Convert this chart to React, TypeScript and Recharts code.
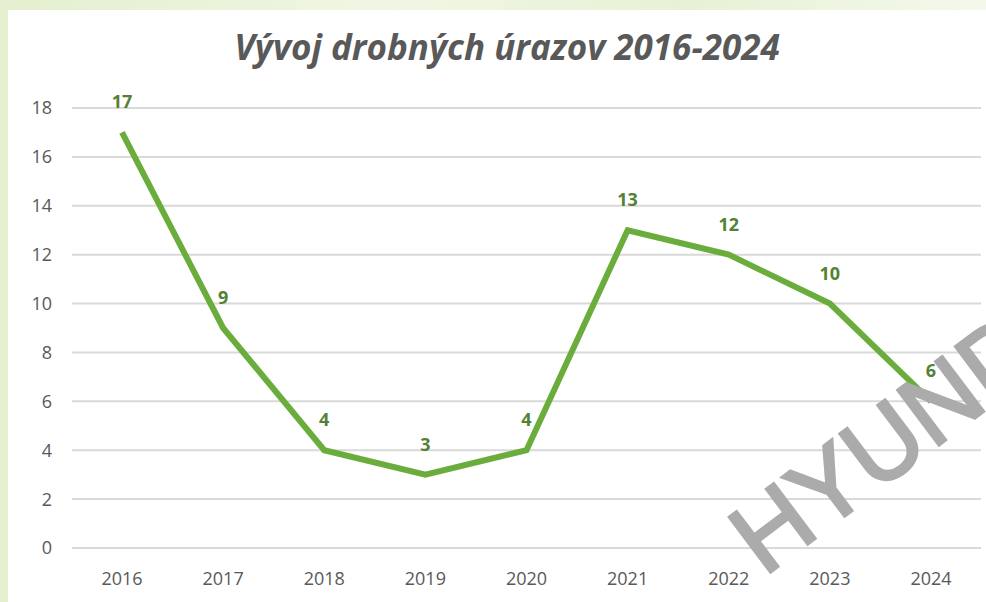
import { LineChart, Line, XAxis, YAxis, CartesianGrid, LabelList } from 'recharts';

const years = ['2016', '2017', '2018', '2019', '2020', '2021', '2022', '2023', '2024'];
const injuries = [17, 9, 4, 3, 4, 13, 12, 10, 6];
const yTicks = [0, 2, 4, 6, 8, 10, 12, 14, 16, 18];

const data = years.map((year, i) => ({ year, value: injuries[i] }));

const font = 'Open Sans, sans-serif';

export default function App() {
  return (
    <div
      style={{
        position: 'absolute',
        left: 0,
        top: 0,
        width: 986,
        height: 602,
        overflow: 'hidden',
        background: 'linear-gradient(90deg, #e4efcf 0%, #f1f6e4 40%, #e8f1d6 70%, #f4f8ec 100%)',
      }}
    >
      <div
        style={{
          position: 'absolute',
          left: 8,
          top: 10,
          width: 978,
          height: 592,
          background: '#ffffff',
        }}
      >
        <div
          style={{
            position: 'absolute',
            top: 15,
            left: 10,
            width: '100%',
            textAlign: 'center',
            fontFamily: font,
            fontStyle: 'italic',
            fontWeight: 700,
            fontSize: 35,
            lineHeight: '44px',
            color: '#595959',
          }}
        >
          Vývoj drobných úrazov 2016-2024
        </div>
        <LineChart
          width={978}
          height={592}
          data={data}
          margin={{ top: 98, right: 5, bottom: 24, left: 0 }}
        >
          <CartesianGrid vertical={false} stroke="#d9d9d9" strokeWidth={2} />
          <XAxis
            dataKey="year"
            axisLine={false}
            tickLine={false}
            tickMargin={18}
            height={30}
            padding={{ left: 50, right: 50 }}
            tick={{ fill: '#595959', fontSize: 18, fontFamily: font }}
          />
          <YAxis
            domain={[0, 18]}
            ticks={yTicks}
            width={64}
            axisLine={false}
            tickLine={false}
            tickMargin={14}
            tick={{ fill: '#595959', fontSize: 18, fontFamily: font }}
          />
          <Line
            type="linear"
            dataKey="value"
            stroke="#6bad3d"
            strokeWidth={6}
            dot={false}
            isAnimationActive={false}
          >
            <LabelList
              dataKey="value"
              position="top"
              offset={24}
              fill="#548235"
              fontSize={18}
              fontWeight={700}
              fontFamily={font}
            />
          </Line>
        </LineChart>
      </div>
      <svg
        width={986}
        height={602}
        style={{ position: 'absolute', left: 0, top: 0, pointerEvents: 'none' }}
      >
        <text
          x={764}
          y={577}
          transform="rotate(-37 764 577)"
          fontFamily="Liberation Sans, Arial, sans-serif"
          fontSize={100}
          fill="#ababab"
          stroke="#ababab"
          strokeWidth={3}
        >
          HYUNDAI
        </text>
      </svg>
    </div>
  );
}
